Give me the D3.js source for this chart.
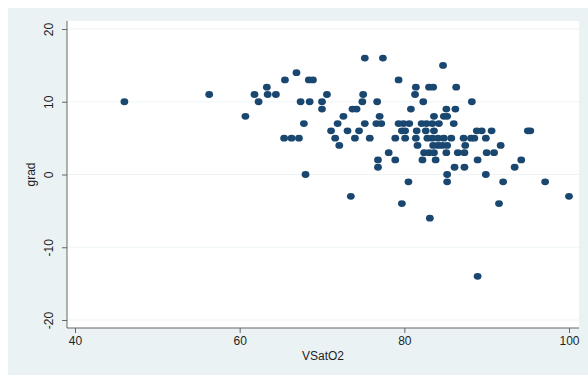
<!DOCTYPE html>
<html>
<head>
<meta charset="utf-8">
<script src="https://cdn.jsdelivr.net/npm/d3@7"></script>
<style>
  body { margin: 0; background: #fff; }
  text { font-family: "Liberation Sans", Arial, sans-serif; fill: #1e1e1e; }
</style>
</head>
<body>
<div id="chart"></div>
<script>
// observations, grouped by grad value
const vsatO2 = [
  75.2, 77.4,
  84.7,
  66.9,
  65.5, 68.4, 68.9, 79.3,
  63.3, 81.4, 83.0, 83.5, 86.3,
  56.3, 61.8, 63.4, 64.4, 70.6, 75.0, 81.3,
  46.0, 62.3, 67.4, 68.5, 70.0, 74.9, 76.7, 82.3, 88.2,
  70.0, 73.7, 74.2, 80.8, 85.1, 86.2,
  60.7, 72.6, 77.0, 83.6, 84.8, 85.2,
  67.8, 71.9, 75.2, 76.6, 77.2, 79.3, 79.9, 80.6, 82.1, 82.7, 83.4, 84.2, 86.0,
  71.1, 73.1, 74.5, 79.7, 80.1, 81.5, 82.6, 83.6, 88.8, 89.4, 90.6, 95.0, 95.3,
  65.4, 66.3, 67.2, 71.6, 74.0, 75.8, 78.9, 80.1, 81.4, 82.8, 83.4, 84.1, 84.8, 85.7, 87.2, 88.1, 88.5, 89.9,
  72.1, 81.6, 83.5, 84.1, 84.6, 85.2, 87.4, 91.7,
  78.1, 82.4, 83.0, 83.6, 85.1, 86.5, 87.3, 90.0, 90.9,
  76.8, 78.9, 82.2, 83.8, 88.9, 94.2,
  76.8, 86.1, 87.3, 93.4,
  68.0, 85.2, 89.9,
  80.5, 85.2, 92.0, 97.1,
  73.5, 100.0,
  79.7, 91.5,
  83.1,
  88.9
];
const grad = [
  16, 16,
  15,
  14,
  13, 13, 13, 13,
  12, 12, 12, 12, 12,
  11, 11, 11, 11, 11, 11, 11,
  10, 10, 10, 10, 10, 10, 10, 10, 10,
  9, 9, 9, 9, 9, 9,
  8, 8, 8, 8, 8, 8,
  7, 7, 7, 7, 7, 7, 7, 7, 7, 7, 7, 7, 7,
  6, 6, 6, 6, 6, 6, 6, 6, 6, 6, 6, 6, 6,
  5, 5, 5, 5, 5, 5, 5, 5, 5, 5, 5, 5, 5, 5, 5, 5, 5, 5,
  4, 4, 4, 4, 4, 4, 4, 4,
  3, 3, 3, 3, 3, 3, 3, 3, 3,
  2, 2, 2, 2, 2, 2,
  1, 1, 1, 1,
  0, 0, 0,
  -1, -1, -1, -1,
  -3, -3,
  -4, -4,
  -6,
  -14
];
const xTicks = [40, 60, 80, 100];
const yTicks = [-20, -10, 0, 10, 20];

const W = 588, H = 375;
const plot = {left: 67, right: 579, top: 21, bottom: 328};

const svg = d3.select('#chart').append('svg')
  .attr('width', W).attr('height', H);

// stata-like outer panel
svg.append('rect')
  .attr('x', 8).attr('y', 8)
  .attr('width', W - 8).attr('height', H - 8)
  .attr('fill', '#eaf2f3');

svg.append('rect')
  .attr('x', plot.left).attr('y', plot.top)
  .attr('width', plot.right - plot.left).attr('height', plot.bottom - plot.top)
  .attr('fill', '#fff');

const x = d3.scaleLinear().domain([40, 100]).range([75, 569]);
const y = d3.scaleLinear().domain([-20, 20]).range([320, 29]);

// grid
svg.append('g')
  .selectAll('line')
  .data(yTicks)
  .enter()
  .append('line')
  .attr('x1', plot.left).attr('x2', plot.right)
  .attr('y1', d => y(d)).attr('y2', d => y(d))
  .attr('stroke', '#eef4f5')
  .attr('stroke-width', 1.2);

// y axis (plain hyphen minus, like the original)
const yAxis = svg.append('g')
  .attr('transform', 'translate(' + plot.left + ',0)')
  .call(d3.axisLeft(y).tickValues(yTicks).tickSize(5).tickPadding(4).tickFormat(d => String(d)));
yAxis.select('.domain').remove();
yAxis.selectAll('line').attr('stroke', '#666');
yAxis.selectAll('text')
  .attr('transform', 'rotate(-90)')
  .attr('x', 0).attr('y', -14)
  .attr('dy', 0)
  .style('text-anchor', 'middle')
  .style('font-size', '12px');
yAxis.append('line')
  .attr('y1', plot.top).attr('y2', plot.bottom)
  .attr('stroke', '#666');

// x axis
const xAxis = svg.append('g')
  .attr('transform', 'translate(0,' + plot.bottom + ')')
  .call(d3.axisBottom(x).tickValues(xTicks).tickSize(5).tickPadding(3).tickFormat(d => String(d)));
xAxis.select('.domain').remove();
xAxis.selectAll('line').attr('stroke', '#666');
xAxis.selectAll('text').style('font-size', '12px');
xAxis.append('line')
  .attr('x1', plot.left).attr('x2', plot.right)
  .attr('stroke', '#666');

// titles
svg.append('text')
  .attr('x', (plot.left + plot.right) / 2).attr('y', 360)
  .style('text-anchor', 'middle').style('font-size', '12px')
  .text('VSatO2');

svg.append('text')
  .attr('transform', 'translate(35,' + y(0) + ')rotate(-90)')
  .style('text-anchor', 'middle').style('font-size', '12px')
  .text('grad');

// points
svg.append('g')
  .selectAll('ellipse')
  .data(vsatO2.map((v, i) => ({x: v, y: grad[i]})))
  .enter()
  .append('ellipse')
  .attr('cx', d => x(d.x))
  .attr('cy', d => y(d.y))
  .attr('rx', 3.9)
  .attr('ry', 3.4)
  .attr('fill', '#1a476f');
</script>
</body>
</html>
